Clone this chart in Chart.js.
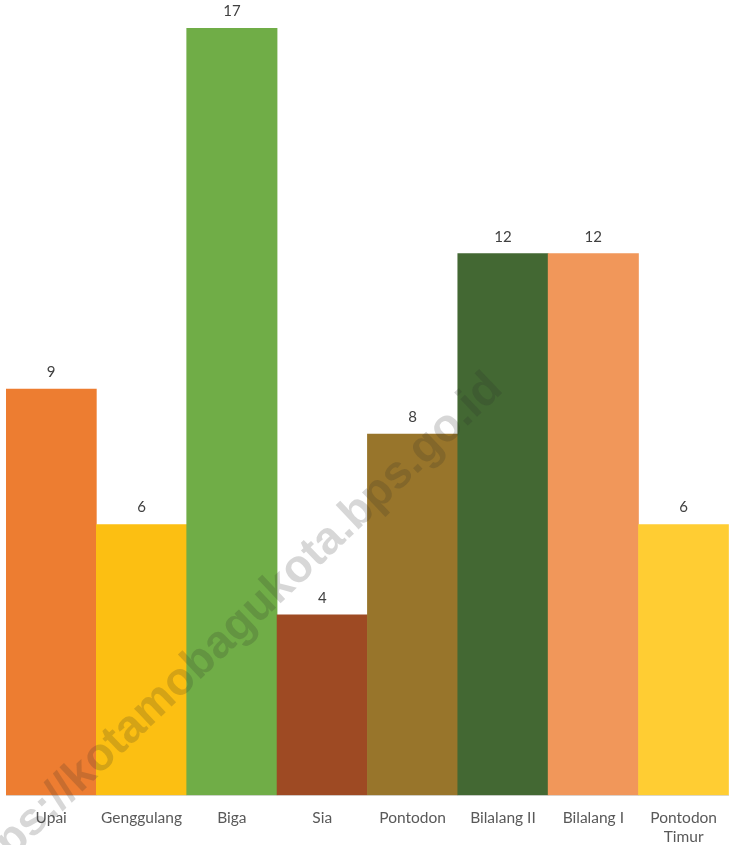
<!DOCTYPE html>
<html>
<head>
<meta charset="utf-8">
<script src="https://cdn.jsdelivr.net/npm/chart.js@4/dist/chart.umd.min.js"></script>
<style>
html,body{margin:0;padding:0;background:#fff;}
#wrap{width:730px;height:845px;}
</style>
</head>
<body>
<div id="wrap"><canvas id="c" width="730" height="845"></canvas></div>
<script>
const categories = ['Upai', 'Genggulang', 'Biga', 'Sia', 'Pontodon', 'Bilalang II', 'Bilalang I', ['Pontodon', 'Timur']];
const values = [9, 6, 17, 4, 8, 12, 12, 6];
const barColors = ['#ED7D31', '#FCBF12', '#70AD47', '#9E4A23', '#98752B', '#436833', '#F1975A', '#FFCD33'];
const watermarkText = 'https://kotamobagukota.bps.go.id';

const valueLabels = {
  id: 'valueLabels',
  afterDatasetsDraw(chart) {
    const ctx = chart.ctx;
    const meta = chart.getDatasetMeta(0);
    ctx.save();
    ctx.fillStyle = '#404040';
    ctx.font = '15px Lato, "Open Sans", sans-serif';
    ctx.textAlign = 'center';
    ctx.textBaseline = 'middle';
    meta.data.forEach((bar, i) => {
      ctx.fillText(String(values[i]), bar.x, bar.y - 17);
    });
    ctx.restore();
  }
};

const watermark = {
  id: 'watermark',
  afterDraw(chart) {
    const ctx = chart.ctx;
    ctx.save();
    ctx.translate(-40, 890);
    ctx.rotate(-43.5 * Math.PI / 180);
    ctx.font = 'bold 46px "Liberation Sans", Arial, sans-serif';
    ctx.fillStyle = 'rgba(40,40,40,0.19)';
    ctx.textBaseline = 'middle';
    ctx.fillText(watermarkText, 0, 0);
    ctx.restore();
  }
};

new Chart(document.getElementById('c'), {
  type: 'bar',
  data: {
    labels: categories,
    datasets: [{
      data: values,
      backgroundColor: barColors,
      borderWidth: 0,
      barPercentage: 1,
      categoryPercentage: 1
    }]
  },
  options: {
    responsive: false,
    animation: false,
    layout: { padding: { left: 6, right: 0, top: 28, bottom: -15 } },
    plugins: { legend: { display: false }, tooltip: { enabled: false } },
    scales: {
      y: { display: false, min: 0, max: 17 },
      x: {
        offset: true,
        grid: { display: false, drawTicks: false },
        border: { display: true, color: '#D9D9D9', width: 1 },
        ticks: {
          color: '#595959',
          padding: 13,
          maxRotation: 0,
          autoSkip: false,
          font: { family: 'Lato, "Open Sans", sans-serif', size: 15.5, lineHeight: 1.25 }
        }
      }
    }
  },
  plugins: [valueLabels, watermark]
});
</script>
</body>
</html>
